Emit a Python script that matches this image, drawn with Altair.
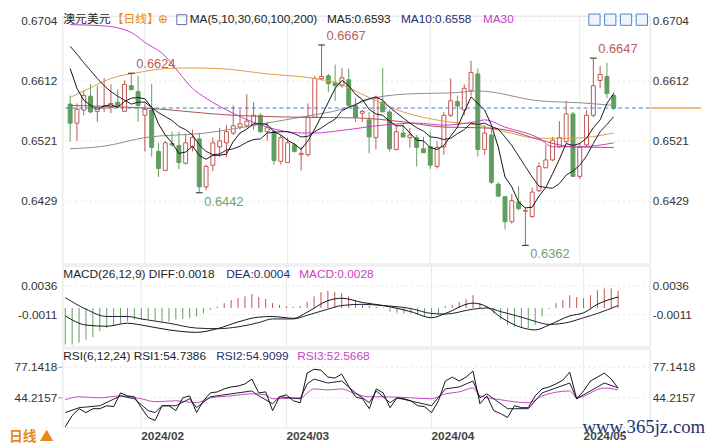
import altair as alt
import pandas as pd

# ---------------- data ----------------
dates = pd.bdate_range("2024-01-17", "2024-05-08")   # 81 trading days

opens = [0.6577, 0.6548, 0.6568, 0.6589, 0.6566, 0.6571, 0.6572, 0.6580, 0.6566, 0.6605,
         0.6596, 0.6560, 0.6568, 0.6505, 0.6476, 0.6517, 0.6514, 0.6487, 0.6512, 0.6524,
         0.6451, 0.6484, 0.6512, 0.6518, 0.6533, 0.6542, 0.6544, 0.6545, 0.6560, 0.6535,
         0.6535, 0.6490, 0.6488, 0.6515, 0.6500, 0.6500, 0.6557, 0.6616, 0.6620, 0.6610,
         0.6605, 0.6614, 0.6575, 0.6563, 0.6553, 0.6526, 0.6580, 0.6565, 0.6508, 0.6533,
         0.6526, 0.6526, 0.6509, 0.6512, 0.6482, 0.6512, 0.6560, 0.6581, 0.6568, 0.6598,
         0.6623, 0.6508, 0.6530, 0.6455, 0.6436, 0.6398, 0.6428, 0.6414, 0.6406, 0.6445,
         0.6480, 0.6492, 0.6512, 0.6520, 0.6562, 0.6467, 0.6515, 0.6560, 0.6613, 0.6619,
         0.6590]
highs = [0.6590, 0.6578, 0.6598, 0.6608, 0.6605, 0.6617, 0.6607, 0.6599, 0.6613, 0.6624,
         0.6620, 0.6578, 0.6608, 0.6518, 0.6521, 0.6535, 0.6535, 0.6532, 0.6538, 0.6533,
         0.6485, 0.6526, 0.6541, 0.6545, 0.6575, 0.6569, 0.6592, 0.6580, 0.6563, 0.6550,
         0.6538, 0.6530, 0.6526, 0.6518, 0.6512, 0.6578, 0.6620, 0.6667, 0.6623, 0.6637,
         0.6632, 0.6631, 0.6586, 0.6568, 0.6565, 0.6590, 0.6632, 0.6569, 0.6545, 0.6548,
         0.6541, 0.6530, 0.6527, 0.6535, 0.6520, 0.6565, 0.6616, 0.6590, 0.6607, 0.6643,
         0.6631, 0.6545, 0.6541, 0.6458, 0.6437, 0.6440, 0.6452, 0.6420, 0.6450, 0.6488,
         0.6515, 0.6527, 0.6551, 0.6582, 0.6565, 0.6518, 0.6568, 0.6647, 0.6635, 0.6640,
         0.6595]
lows = [0.6520, 0.6521, 0.6560, 0.6563, 0.6550, 0.6565, 0.6563, 0.6571, 0.6565, 0.6598,
        0.6550, 0.6505, 0.6497, 0.6466, 0.6475, 0.6512, 0.6478, 0.6485, 0.6505, 0.6442,
        0.6446, 0.6475, 0.6497, 0.6496, 0.6530, 0.6538, 0.6541, 0.6538, 0.6533, 0.6521,
        0.6485, 0.6485, 0.6488, 0.6503, 0.6476, 0.6497, 0.6557, 0.6613, 0.6595, 0.6582,
        0.6602, 0.6572, 0.6550, 0.6550, 0.6502, 0.6508, 0.6565, 0.6505, 0.6506, 0.6526,
        0.6511, 0.6482, 0.6503, 0.6478, 0.6479, 0.6500, 0.6557, 0.6545, 0.6560, 0.6590,
        0.6497, 0.6500, 0.6455, 0.6436, 0.6386, 0.6395, 0.6415, 0.6362, 0.6404, 0.6443,
        0.6480, 0.6490, 0.6510, 0.6518, 0.6467, 0.6463, 0.6512, 0.6557, 0.6601, 0.6586,
        0.6568]
closes = [0.6548, 0.6569, 0.6590, 0.6565, 0.6572, 0.6574, 0.6578, 0.6574, 0.6607, 0.6599,
          0.6575, 0.6569, 0.6511, 0.6479, 0.6518, 0.6515, 0.6488, 0.6518, 0.6526, 0.6451,
          0.6482, 0.6518, 0.6521, 0.6535, 0.6544, 0.6547, 0.6551, 0.6560, 0.6535, 0.6541,
          0.6491, 0.6526, 0.6518, 0.6505, 0.6502, 0.6557, 0.6616, 0.6619, 0.6608, 0.6605,
          0.6617, 0.6575, 0.6557, 0.6566, 0.6527, 0.6586, 0.6565, 0.6509, 0.6535, 0.6527,
          0.6530, 0.6511, 0.6503, 0.6484, 0.6511, 0.6560, 0.6582, 0.6574, 0.6601, 0.6625,
          0.6508, 0.6533, 0.6458, 0.6437, 0.6398, 0.6430, 0.6418, 0.6415, 0.6443, 0.6482,
          0.6492, 0.6522, 0.6526, 0.6562, 0.6467, 0.6511, 0.6560, 0.6605, 0.6622, 0.6593,
          0.6571]

ma5 = [0.6631, 0.6601, 0.6583, 0.6575, 0.6569, 0.6574, 0.6576, 0.6572, 0.6581, 0.6586,
       0.6587, 0.6585, 0.6572, 0.6547, 0.6530, 0.6518, 0.6502, 0.6504, 0.6513, 0.6499,
       0.6493, 0.6499, 0.6499, 0.6501, 0.6520, 0.6533, 0.6539, 0.6547, 0.6547, 0.6546,
       0.6535, 0.6530, 0.6522, 0.6516, 0.6508, 0.6521, 0.6539, 0.6559, 0.6580, 0.6601,
       0.6613, 0.6605, 0.6592, 0.6584, 0.6569, 0.6562, 0.6560, 0.6551, 0.6544, 0.6544,
       0.6533, 0.6522, 0.6521, 0.6511, 0.6508, 0.6514, 0.6528, 0.6542, 0.6565, 0.6588,
       0.6578, 0.6568, 0.6545, 0.6512, 0.6466, 0.6451, 0.6428, 0.6419, 0.6420, 0.6437,
       0.6450, 0.6471, 0.6493, 0.6517, 0.6514, 0.6517, 0.6525, 0.6541, 0.6553, 0.6578,
       0.6593]
ma10 = [0.6665, 0.6653, 0.6640, 0.6628, 0.6616, 0.6605, 0.6596, 0.6589, 0.6583, 0.6577,
        0.6580, 0.6580, 0.6572, 0.6564, 0.6558, 0.6552, 0.6543, 0.6538, 0.6530, 0.6515,
        0.6505, 0.6500, 0.6501, 0.6507, 0.6509, 0.6513, 0.6519, 0.6523, 0.6524, 0.6533,
        0.6534, 0.6535, 0.6535, 0.6532, 0.6527, 0.6528, 0.6535, 0.6541, 0.6548, 0.6554,
        0.6567, 0.6572, 0.6576, 0.6582, 0.6585, 0.6588, 0.6583, 0.6572, 0.6564, 0.6556,
        0.6548, 0.6541, 0.6536, 0.6527, 0.6526, 0.6523, 0.6525, 0.6532, 0.6538, 0.6548,
        0.6546, 0.6548, 0.6543, 0.6539, 0.6527, 0.6514, 0.6498, 0.6482, 0.6466, 0.6452,
        0.6450, 0.6449, 0.6456, 0.6469, 0.6475, 0.6484, 0.6498, 0.6517, 0.6535, 0.6546,
        0.6558]

ma30_day = [0, 5, 9, 11, 14, 16, 18, 20, 24, 29, 34, 36, 40, 46, 51, 55, 60, 61, 64, 69, 71, 75, 80]
ma30 = [0.6698, 0.6696, 0.6686, 0.6671, 0.6650, 0.6625, 0.6601, 0.6586, 0.6563, 0.6542, 0.6533, 0.6533,
        0.6537, 0.6545, 0.6548, 0.6545, 0.6551, 0.6553, 0.6542, 0.6525, 0.6512, 0.6512, 0.6518]
ma60_day = [0, 11, 24, 34, 42, 49, 55, 60, 64, 69, 74, 80]
ma60 = [0.6575, 0.6571, 0.6560, 0.6557, 0.6556, 0.6550, 0.6542, 0.6541, 0.6538, 0.6523, 0.6512, 0.6511]
ma100_day = [0, 3, 6, 10, 14, 17, 22, 29, 36, 39, 44, 49, 55, 60, 64, 69, 74, 80]
ma100 = [0.6587, 0.6602, 0.6616, 0.6625, 0.6631, 0.6632, 0.6631, 0.6623, 0.6616, 0.6610, 0.6587, 0.6565,
         0.6551, 0.6545, 0.6535, 0.6525, 0.6525, 0.6533]
ma200_day = [0, 5, 11, 20, 25, 30, 35, 40, 45, 51, 56, 60, 69, 75, 80]
ma200 = [0.6509, 0.6513, 0.6526, 0.6533, 0.6541, 0.6550, 0.6559, 0.6569, 0.6587, 0.6593, 0.6594, 0.6597,
         0.6582, 0.6579, 0.6575]

macd_hist = [-0.0060, -0.0060, -0.0057, -0.0052, -0.0048, -0.0038, -0.0033, -0.0028, -0.0025, -0.0022,
             -0.0019, -0.0019, -0.0019, -0.0021, -0.0022, -0.0022, -0.0019, -0.0018, -0.0017, -0.0014,
             -0.0009, -0.0003, 0.0002, 0.0008, 0.0013, 0.0016, 0.0019, 0.0023, 0.0018, 0.0015,
             0.0008, 0.0005, 0.0003, 0.0002, 0.0003, 0.0010, 0.0019, 0.0026, 0.0028, 0.0026,
             0.0024, 0.0019, 0.0013, 0.0006, 0.0003, 0.0002, 0.0001, -0.0006, -0.0008, -0.0009,
             -0.0009, -0.0011, -0.0014, -0.0015, -0.0011, 0.0003, 0.0005, 0.0010, 0.0014, 0.0021,
             0.0008, 0.0003, -0.0009, -0.0019, -0.0028, -0.0031, -0.0033, -0.0033, -0.0028, -0.0014,
             -0.0002, 0.0008, 0.0013, 0.0021, 0.0018, 0.0016, 0.0021, 0.0029, 0.0032, 0.0032,
             0.0028]
line_day = [0, 3, 6, 9, 11, 15, 19, 22, 25, 28, 30, 33, 35, 38, 40, 43, 46, 50, 53, 55,
            59, 61, 63, 66, 68, 70, 73, 75, 77, 80]
diff = [-0.0013, -0.0028, -0.0030, -0.0025, -0.0028, -0.0036, -0.0040, -0.0034, -0.0023, -0.0015,
        -0.0014, -0.0017, -0.0007, 0.0012, 0.0016, 0.0009, 0.0004, -0.0006, -0.0016, -0.0009,
        0.0008, 0.0002, -0.0015, -0.0032, -0.0036, -0.0028, -0.0013, -0.0008, 0.0006, 0.0018]
dea = [0.0017, -0.0002, -0.0014, -0.0014, -0.0018, -0.0025, -0.0033, -0.0034, -0.0031, -0.0024,
       -0.0018, -0.0018, -0.0012, -0.0002, 0.0004, 0.0006, 0.0004, -0.0001, -0.0009, -0.0010,
       -0.0002, 0.0000, -0.0006, -0.0015, -0.0022, -0.0027, -0.0023, -0.0016, -0.0009, 0.0004]

rsi1 = [13.0, 25.1, 32.5, 28.3, 32.5, 32.5, 35.7, 34.7, 49.5, 46.3,
        45.3, 33.6, 23.0, 19.8, 35.7, 35.7, 30.4, 44.2, 46.3, 28.3,
        41.0, 49.5, 50.6, 53.8, 55.9, 56.9, 59.1, 64.4, 49.5, 50.6,
        30.4, 45.3, 47.4, 41.0, 38.9, 70.8, 75.0, 73.9, 66.5, 65.5,
        69.7, 56.9, 45.3, 43.2, 32.5, 53.8, 49.5, 33.6, 44.2, 43.2,
        41.0, 35.7, 34.7, 28.3, 41.0, 62.3, 66.5, 62.3, 66.5, 72.9,
        37.8, 46.3, 30.4, 27.2, 23.0, 35.7, 33.6, 33.6, 46.3, 53.8,
        55.9, 59.1, 63.3, 71.8, 43.2, 51.6, 62.3, 66.5, 70.8, 64.4,
        54.74]
rsi2_day = [0, 2, 5, 8, 10, 12, 13, 14, 16, 18, 19, 21, 24, 27, 28, 30, 31, 34, 35, 36,
            38, 40, 42, 44, 45, 47, 48, 53, 55, 57, 59, 60, 61, 64, 67, 69, 73, 74, 78, 80]
rsi2 = [28.3, 33.6, 35.7, 46.3, 43.2, 30.4, 28.3, 35.7, 35.7, 43.2, 33.6, 45.3, 48.5, 51.6, 46.3, 37.8,
        45.3, 43.2, 59.1, 64.4, 60.1, 62.3, 49.5, 38.9, 51.6, 38.9, 44.2, 35.7, 53.8, 55.9, 62.3, 44.2,
        48.5, 32.5, 32.5, 49.5, 60.1, 43.2, 60.1, 54.91]
rsi3_day = [0, 2, 5, 8, 11, 13, 16, 19, 21, 24, 27, 29, 30, 34, 36, 38, 40, 42, 44, 46,
            50, 53, 55, 57, 59, 60, 63, 67, 69, 73, 74, 78, 80]
rsi3 = [42.1, 45.3, 44.2, 46.3, 43.2, 40.0, 41.0, 38.9, 44.2, 46.3, 48.5, 47.4, 43.2, 44.2, 53.8, 52.7,
        53.8, 48.5, 45.3, 45.3, 44.2, 43.2, 48.5, 50.6, 54.8, 46.3, 42.1, 38.9, 46.3, 51.6, 44.2, 54.8,
        52.57]

hi_days = [9, 37, 77]
lo_days = [19, 67]

main_ticks = [0.6704, 0.6612, 0.6521, 0.6429]
macd_ticks = [0.0036, -0.0011]
rsi_ticks = [77.1418, 44.2157]

head_vals = {"MA5": 0.6593, "MA10": 0.6558, "DIFF": 0.0018, "DEA": 0.0004, "MACD": 0.0028,
             "RSI1": 54.7386, "RSI2": 54.9099, "RSI3": 52.5668}

# ---------------- frames ----------------
n = len(dates)
days = list(range(n))
month_idx = [i for i in range(1, n) if dates[i].month != dates[i - 1].month]
month_labels = [dates[i].strftime("%Y/%m") for i in month_idx]

cand = pd.DataFrame({"i": days, "open": opens, "high": highs, "low": lows, "close": closes})
cand["up"] = cand["close"] >= cand["open"]
df_month = pd.DataFrame({"i": month_idx, "label": month_labels})
one = pd.DataFrame({"k": [0]})


def series(d, v):
    return pd.DataFrame({"i": d, "v": v})


def tick_df(ticks):
    return pd.DataFrame({"v": ticks, "label": [f"{t:.4f}" for t in ticks]})


# ---------------- styling ----------------
LAT = "Liberation Sans"
CJK = "Noto Sans CJK SC"
UP = "#c0564f"
DN = "#5f9e5f"
ORANGE = "#e8891a"
NAVY = "#262c6e"
MAG = "#c445c4"
W = 595
H_MAIN, H_MACD, H_RSI = 251, 82, 80
X_DOM = [-3 / 7, 592 / 7]
MAIN_DOM = [0.63343, 0.67115]
MACD_DOM = [-0.00632, 0.00697]
RSI_DOM = [12.35, 97.32]


def X(field="i"):
    return alt.X(field, type="quantitative", scale=alt.Scale(domain=X_DOM, nice=False, zero=False),
                 axis=None, title=None)


def Y(field, dom):
    return alt.Y(field, type="quantitative", scale=alt.Scale(domain=dom, nice=False, zero=False),
                 axis=None, title=None)


def txt(text, x, y, color, size=12, font=LAT, weight="normal", baseline="middle", align="left"):
    return alt.Chart(one).mark_text(text=text, align=align, baseline=baseline, color=color,
                                    fontSize=size, font=font, fontWeight=weight).encode(
        x=alt.value(x), y=alt.value(y))


def vgrid():
    return alt.Chart(df_month).mark_rule(color="#e9e9e9", strokeWidth=1).encode(x=X("i"))


def ylabels(ticks, dom, left_ticks=False):
    d = tick_df(ticks)
    base = alt.Chart(d)
    grid = base.mark_rule(color="#e6e6e6", strokeDash=[2, 3], strokeWidth=1).encode(y=Y("v", dom))
    left = base.mark_text(align="right", baseline="middle", font=LAT, fontSize=12,
                          color="#333333").encode(
        x=alt.value(-5), y=Y("v", dom), text="label:N")
    right = base.mark_text(align="left", baseline="middle", font=LAT, fontSize=12,
                           color="#333333").encode(
        x=alt.value(W + 3), y=Y("v", dom), text="label:N")
    out = [grid, left, right]
    if left_ticks:
        out.append(base.mark_rule(color="#999999", strokeWidth=1).encode(
            x=alt.value(-4), x2=alt.value(0), y=Y("v", dom)))
    return out


def mline(df, dom, color, interp="linear", width=1.0):
    return alt.Chart(df).mark_line(color=color, strokeWidth=width, interpolate=interp).encode(
        x=X(), y=Y("v", dom))


# ---------------- main panel ----------------
wick = alt.Chart(cand).mark_rule(strokeWidth=1).encode(
    x=X(), y=Y("low", MAIN_DOM), y2="high",
    color=alt.condition("datum.up", alt.value(UP), alt.value(DN)))
body = alt.Chart(cand).mark_bar(size=4, strokeWidth=1).encode(
    x=X(), y=Y("open", MAIN_DOM), y2="close",
    fill=alt.condition("datum.up", alt.value("white"), alt.value(DN)),
    stroke=alt.condition("datum.up", alt.value(UP), alt.value(DN)))

hi_df = pd.DataFrame({"i": hi_days, "v": [highs[d] for d in hi_days]})
lo_df = pd.DataFrame({"i": lo_days, "v": [lows[d] for d in lo_days]})


def extreme(df, color, dy):
    base = alt.Chart(df).transform_calculate(
        x1="datum.i - 0.5", x2="datum.i + 0.5", label="format(datum.v, '.4f')")
    cross = base.mark_rule(color="#222222", strokeWidth=1).encode(
        x=X("x1"), x2="x2", y=Y("v", MAIN_DOM))
    lab = base.mark_text(align="left", baseline="middle", dx=5, dy=dy, color=color,
                         fontSize=13, font=LAT).encode(x=X(), y=Y("v", MAIN_DOM), text="label:N")
    return cross, lab


hi_cross, hi_lab = extreme(hi_df, "#b9605a", -9)
lo_cross, lo_lab = extreme(lo_df, "#6aa66a", 9)

last_df = pd.DataFrame({"v": [closes[-1]]})
last_line = alt.Chart(last_df).mark_rule(color="#3d7cc9", strokeDash=[4, 3], strokeWidth=1).encode(
    y=Y("v", MAIN_DOM))
orange_seg = alt.Chart(last_df).mark_rule(color="#f0a448", strokeWidth=1.5).encode(
    y=Y("v", MAIN_DOM), x=alt.value(W + 1), x2=alt.value(W + 52))

HY = -2
header = [
    txt("澳元美元", 1, HY, "#222222", 12, CJK, baseline="top"),
    txt("【日线】", 50, HY, ORANGE, 12, CJK, baseline="top"),
    txt("⊕", 97, HY, ORANGE, 12, "DejaVu Sans", baseline="top"),
    alt.Chart(one).mark_square(size=100, filled=False, color=NAVY, strokeWidth=1).encode(
        x=alt.value(121), y=alt.value(HY + 6)),
    txt("MA(5,10,30,60,100,200)", 129, HY, "#222222", baseline="top"),
    txt(f"MA5:{head_vals['MA5']:.4f}", 268, HY, "#222222", baseline="top"),
    txt(f"MA10:{head_vals['MA10']:.4f}", 343, HY, NAVY, baseline="top"),
    txt("MA30", 426, HY, MAG, baseline="top"),
]
icons = [alt.Chart(one).mark_square(size=130, fill="#eef4fc", stroke="#4d82c8", strokeWidth=1,
                                    opacity=1).encode(x=alt.value(cx), y=alt.value(HY + 6))
         for cx in (539, 555, 571, 587)]

main = alt.layer(
    vgrid(), *ylabels(main_ticks, MAIN_DOM), wick, body,
    mline(series(ma200_day, ma200), MAIN_DOM, "#8c8c8c", "monotone"),
    mline(series(ma100_day, ma100), MAIN_DOM, "#e39a45", "monotone"),
    mline(series(ma60_day, ma60), MAIN_DOM, "#a9514b", "monotone"),
    mline(series(ma30_day, ma30), MAIN_DOM, "#c83cc8", "monotone"),
    mline(series(days, ma10), MAIN_DOM, "#1b1b3a"),
    mline(series(days, ma5), MAIN_DOM, "#111111"),
    last_line, orange_seg,
    hi_cross, lo_cross, hi_lab, lo_lab, *header, *icons,
).properties(width=W, height=H_MAIN)

# ---------------- MACD panel ----------------
macd_df = pd.DataFrame({"i": days, "v": macd_hist, "z": [0.0] * n})
hist = alt.Chart(macd_df).mark_rule(strokeWidth=1).encode(
    x=X(), y=Y("v", MACD_DOM), y2="z",
    color=alt.condition("datum.v > 0", alt.value("#b8524d"), alt.value(DN)))
macd = alt.layer(
    vgrid(), *ylabels(macd_ticks, MACD_DOM), hist,
    mline(series(line_day, dea), MACD_DOM, "#1b1b3a", "monotone"),
    mline(series(line_day, diff), MACD_DOM, "#111111", "monotone"),
    txt(f"MACD(26,12,9) DIFF:{head_vals['DIFF']:.4f}", 1, 9, "#222222"),
    txt(f"DEA:{head_vals['DEA']:.4f}", 166, 9, NAVY),
    txt(f"MACD:{head_vals['MACD']:.4f}", 240, 9, MAG),
).properties(width=W, height=H_MACD)

# ---------------- RSI panel ----------------
date_labels = alt.Chart(df_month).mark_text(
    align="left", baseline="top", font=LAT, fontSize=12, fontWeight="bold", color="#444444"
).encode(x=X("i"), y=alt.value(H_RSI + 4), text="label:N")

rsi = alt.layer(
    vgrid(), *ylabels(rsi_ticks, RSI_DOM, left_ticks=True),
    mline(series(rsi3_day, rsi3), RSI_DOM, "#c445c4", "monotone"),
    mline(series(rsi2_day, rsi2), RSI_DOM, "#1b1b3a"),
    mline(series(days, rsi1), RSI_DOM, "#111111"),
    txt(f"RSI(6,12,24) RSI1:{head_vals['RSI1']:.4f}", 1, 8, "#222222"),
    txt(f"RSI2:{head_vals['RSI2']:.4f}", 156, 8, NAVY),
    txt(f"RSI3:{head_vals['RSI3']:.4f}", 238, 8, MAG),
    date_labels,
    txt("日线 ▲", -54, 90, ORANGE, 14, CJK, "bold"),
    txt("www.365jz.com", 589, 80, "#1d3570", 19, "Liberation Serif", align="center"),
).properties(width=W, height=H_RSI)

chart = alt.vconcat(main, macd, rsi, spacing=0).properties(padding=0).configure_view(
    stroke="#e2e2e2")

chart.save("out.html", embed_options={"renderer": "svg", "actions": False})
